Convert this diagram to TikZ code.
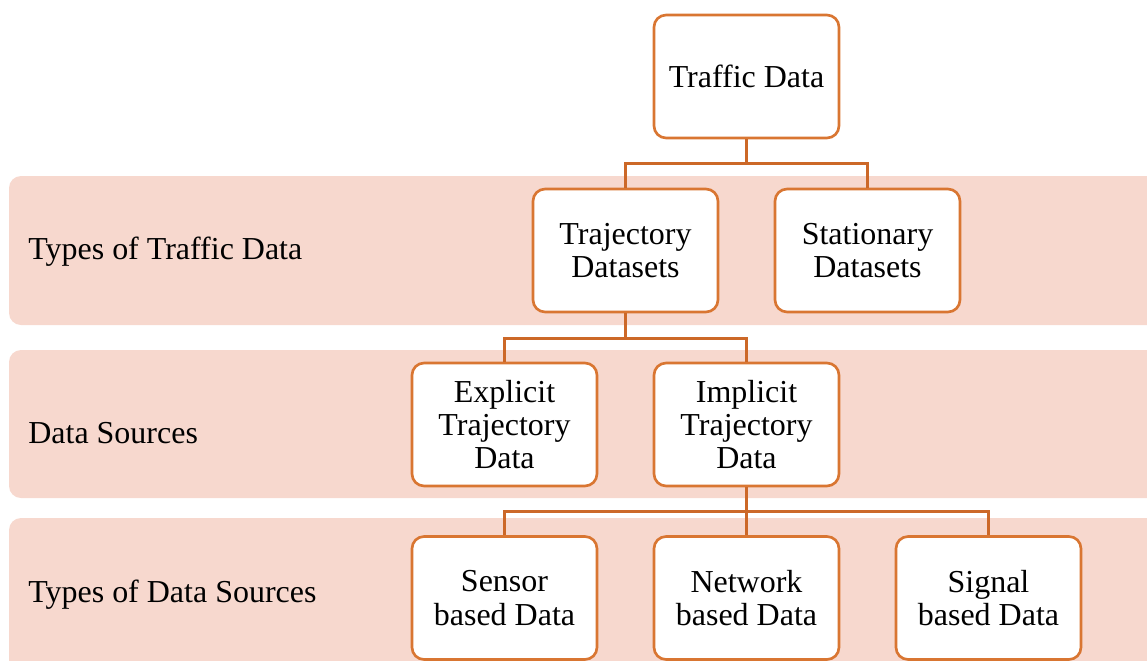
\documentclass[tikz,border=0pt]{standalone}
\usepackage{fontspec}
\setmainfont{Liberation Serif}

\definecolor{bandpink}{RGB}{247,216,206}
\definecolor{boxorange}{RGB}{217,118,50}
\definecolor{lineorange}{RGB}{204,104,40}

\tikzset{
  databox/.style={draw=boxorange, line width=1.5pt, rounded corners=0.24cm,
    fill=white, minimum width=3.7cm, minimum height=2.46cm, align=center,
    font=\fontsize{18.2}{19}\selectfont},
  bandlabel/.style={anchor=west, inner sep=0pt, font=\fontsize{18.2}{19}\selectfont},
  tree/.style={draw=lineorange, line width=1.5pt}
}

\begin{document}
\begin{tikzpicture}[x=0.02cm, y=-0.02cm]
    % page frame
    \useasboundingbox (0,0) rectangle (1147,660);
    \clip (0,0) rectangle (1147,660);

    % draw the three bands
    \fill[bandpink, rounded corners=0.24cm] (9,176) rectangle (1170,325);
    \fill[bandpink, rounded corners=0.24cm] (9,350) rectangle (1170,498);
    \fill[bandpink, rounded corners=0.24cm] (9,518) rectangle (1170,690);

    \node[bandlabel] (lblTypes) at (28,252) {Types of Traffic Data};
    \node[bandlabel] (lblSources) at (28,433) {Data Sources};
    \node[bandlabel] (lblKinds) at (28,595) {Types of Data Sources};

    % add in the boxes
    \node[databox] (traffic) at (746.5,76.5) {Traffic Data};
    \node[databox] (traj) at (625.5,250.5) {Trajectory\\Datasets};
    \node[databox] (stat) at (867.5,250.5) {Stationary\\Datasets};
    \node[databox] (explicit) at (504.5,424.5) {Explicit\\Trajectory\\Data};
    \node[databox] (implicit) at (746.5,424.5) {Implicit\\Trajectory\\Data};
    \node[databox] (sensor) at (504.5,598) {Sensor\\based Data};
    \node[databox] (network) at (746.5,598) {Network\\based Data};
    \node[databox] (signal) at (988.5,598) {Signal\\based Data};

    % connect them up
    \draw[tree] (traffic.south) -- ++(0,24) coordinate (forkA) -| (traj.north);
    \draw[tree] (forkA) -| (stat.north);
    \draw[tree] (traj.south) -- ++(0,25) coordinate (forkB) -| (explicit.north);
    \draw[tree] (forkB) -| (implicit.north);
    \draw[tree] (implicit.south) -- (network.north);
    \draw[tree] (implicit.south) -- ++(0,24) coordinate (forkC) -| (sensor.north);
    \draw[tree] (forkC) -| (signal.north);
  \end{tikzpicture}
\end{document}
